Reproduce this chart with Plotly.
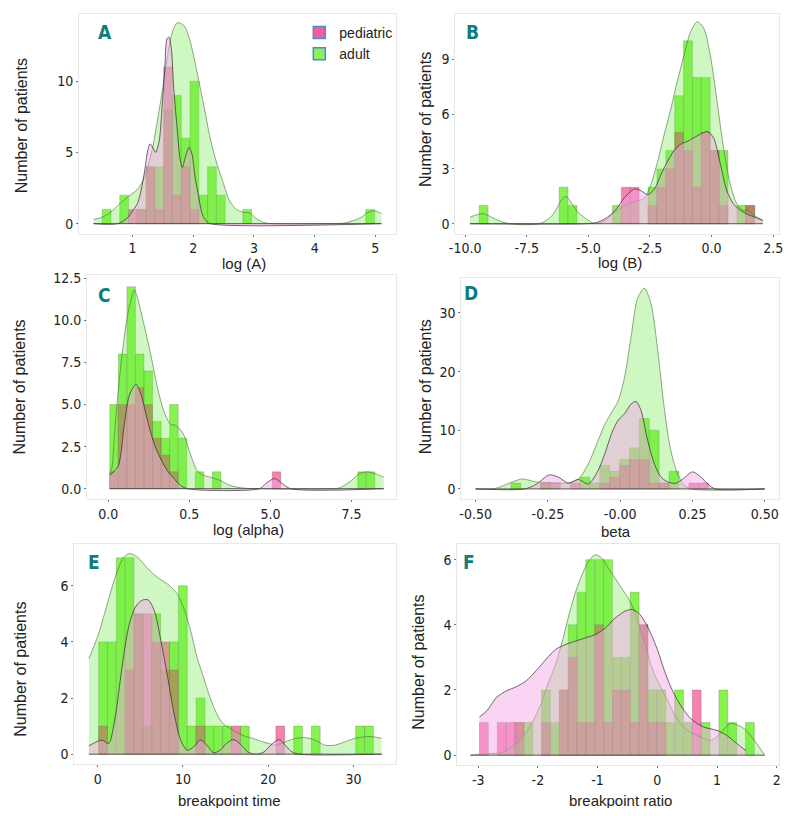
import plotly.graph_objects as go

# page is shown with an 8px body margin, so the figure is 783x800 and
# reference pixel positions are shifted by OFF
OFF = 8
FW, FH = 783, 800

# ---------------- DATA ----------------
# Panel A: log (A)
A_edge0, A_bw = 0.501, 0.1447
A_adult = [1,0,2,0,1,4,4,8,9,6,10,2,4,2,0,0,1,0,0,0,0,0,0,0,0,0,0,0,0,0,1]
A_ped   = [0,0,0,1,1,4,1,11,2,4,1,0,0,0,0,0,0,0,0,0,0,0,0,0,0,0,0,0,0,0,0]
A_dens_adult_x = [0.36,0.50,0.64,0.79,0.93,1.08,1.17,1.25,1.33,1.41,1.49,1.57,1.66,1.74,1.85,1.95,2.06,2.17,2.28,2.39,2.50,2.60,2.71,2.82,2.93,3.04,3.15,3.26,4.34,4.50,4.66,4.77,4.88,4.99,5.10]
A_dens_adult_y = [0.3,0.45,0.8,1.4,1.9,2.4,3.0,4.0,5.3,7.2,9.3,11.6,13.5,14.1,13.9,12.8,10.7,8.4,6.0,4.2,2.8,1.6,1.0,0.8,0.75,0.35,0.1,0.0,0.0,0.05,0.25,0.45,0.8,0.9,0.7]
A_dens_ped_x = [0.36,0.76,0.93,1.0,1.08,1.14,1.2,1.25,1.29,1.34,1.38,1.44,1.49,1.53,1.57,1.60,1.64,1.68,1.74,1.78,1.82,1.87,1.93,1.98,2.03,2.09,2.14,2.2,2.28,5.10]
A_dens_ped_y = [0.0,0.0,0.45,0.9,1.4,2.3,3.7,5.1,5.6,5.3,5.0,5.8,8.4,10.7,13.0,13.1,12.3,9.5,6.5,4.65,3.95,4.65,5.35,4.9,3.3,1.9,0.8,0.25,0.0,0.0]

# Panel B: log (B)
B_edge0, B_bw = -9.43, 0.3606
B_adult = [1,0,0,0,0,0,0,0,0,2,1,0,0,0,0,1,0,0,0,2,3,4,7,10,8,8,4,4,0,1,1,0]
B_ped   = [0,0,0,0,0,0,0,0,0,0,0,0,0,0,0,0,2,2,0,1,2,3,5,4,2,5,4,1,0,0,1,0]
B_dens_adult_x = [-9.8,-9.27,-8.7,-8.2,-7.0,-6.5,-5.93,-5.4,-4.72,-4.32,-3.92,-3.52,-3.12,-2.72,-2.45,-2.19,-1.92,-1.65,-1.39,-1.12,-0.85,-0.58,-0.32,-0.05,0.22,0.48,0.75,1.02,1.28,1.48,1.68,2.08]
B_dens_adult_y = [0.36,0.55,0.2,0.0,0.0,0.4,1.49,0.6,0.0,0.18,0.63,1.0,1.2,1.4,2.2,3.4,4.9,6.3,7.8,9.2,10.5,11.05,10.7,9.2,6.7,4.2,2.2,1.1,0.72,0.72,0.5,0.18]
B_dens_ped_x = [-9.8,-5.1,-4.72,-4.32,-3.92,-3.52,-3.12,-2.86,-2.59,-2.32,-2.05,-1.79,-1.52,-1.25,-0.99,-0.72,-0.45,-0.18,0.08,0.35,0.62,0.88,1.15,1.42,1.75,2.08]
B_dens_ped_y = [0.0,0.0,0.05,0.27,0.72,1.45,1.9,1.8,1.6,1.9,2.7,3.4,4.0,4.35,4.5,4.7,4.9,5.04,4.7,3.3,1.8,1.1,0.76,0.54,0.36,0.18]

# Panel C: log (alpha)
C_edge0, C_bw = 0.0507, 0.2634
C_adult = [5,8,12,8,7,4,3,5,3,0,1,0,1,0,0,0,0,0,0,0,0,0,0,0,0,0,0,0,0,1,1]
C_ped   = [1,5,5,6,5,3,2,1,0,0,0,0,0,0,0,0,0,0,0,1,0,0,0,0,0,0,0,0,0,0,0]
C_dens_adult_x = [0.05,0.1,0.2,0.35,0.51,0.66,0.81,0.91,1.11,1.32,1.52,1.72,1.93,2.03,2.18,2.33,2.53,2.74,2.94,3.14,3.44,3.75,4.15,4.56,7.0,7.19,7.5,7.75,8.0,8.2,8.49]
C_dens_adult_y = [1.0,1.1,3.4,6.6,9.2,10.9,11.8,11.3,9.7,7.9,6.0,4.6,3.8,3.8,3.6,3.2,2.07,1.08,0.79,0.69,0.5,0.2,0.04,0.0,0.0,0.1,0.5,0.9,1.0,0.9,0.69]
C_dens_ped_x = [0.05,0.3,0.51,0.66,0.86,1.01,1.22,1.42,1.62,1.82,2.03,2.23,2.43,4.66,4.86,5.12,5.37,5.62,8.49]
C_dens_ped_y = [0.8,1.3,4.0,5.6,6.2,5.6,4.0,2.66,1.77,1.08,0.59,0.2,0.0,0.0,0.3,0.6,0.3,0.0,0.0]

# Panel D: beta
D_edge0, D_bw = -0.378, 0.0342
D_adult = [1,0,0,1,0,0,0,2,1,4,3,5,7,12,10,1,3,0,0,0]
D_ped   = [0,0,0,1,1,0,1,0,0,1,2,4,5,5,1,1,0,0,1,1]
D_dens_adult_x = [-0.5,-0.441,-0.418,-0.372,-0.338,-0.292,-0.247,-0.213,-0.178,-0.144,-0.11,-0.076,-0.053,-0.03,-0.007,0.015,0.038,0.061,0.084,0.107,0.13,0.152,0.175,0.198,0.22,0.244,0.5]
D_dens_adult_y = [0,0,0.3,1.2,1.7,1.2,1.1,1.0,1.0,1.7,4.3,8.3,11,13,15,19,26,32.6,34.2,31.5,23.6,14,6.6,2.7,0.7,0,0]
D_dens_ped_x = [-0.5,-0.33,-0.29,-0.245,-0.21,-0.18,-0.145,-0.11,-0.076,-0.053,-0.03,-0.007,0.015,0.038,0.055,0.072,0.095,0.118,0.14,0.164,0.192,0.22,0.25,0.278,0.306,0.33,0.5]
D_dens_ped_y = [0,0,0.8,2.4,1.9,1.0,1.6,0.85,3.2,6.0,9.4,11.7,12.8,14.5,14.9,13.4,8.3,4.35,2.1,1.2,0.96,1.8,2.9,2.1,0.7,0,0]

# Panel E: breakpoint time
E_edge0, E_bw = 0.1, 1.04
E_adult = [4,4,7,7,5,1,5,3,4,6,1,2,1,1,1,0,1,0,0,0,0,0,1,0,1,0,0,0,0,1,1]
E_ped   = [1,0,0,3,5,5,4,4,3,0,0,1,0,0,0,1,0,0,0,0,1,0,0,0,0,0,0,0,0,0,0]
E_dens_adult_x = [-1.04,0,0.88,2.04,3.0,3.77,4.73,5.9,7.0,8.2,9.35,10.1,10.9,11.65,12.4,13.2,13.96,14.7,15.9,17.0,18.2,19.35,20.1,20.9,22.0,23.2,24.3,25.5,26.65,27.8,29.0,30.1,31.3,32.35,33.3]
E_dens_adult_y = [3.4,4.2,5.1,6.3,7.0,7.15,7.0,6.6,6.3,6.06,5.7,5.2,4.4,3.45,2.75,2.0,1.44,1.09,0.85,0.67,0.56,0.44,0.38,0.32,0.44,0.56,0.59,0.5,0.32,0.32,0.44,0.56,0.62,0.62,0.56]
E_dens_ped_x = [-1.04,0.5,1.27,2.04,2.8,3.6,4.35,5.1,5.9,6.65,7.4,8.2,8.96,9.73,10.5,11.27,12.04,12.8,13.6,14.35,15.1,15.9,16.65,17.6,18.6,19.5,20.5,21.3,22.0,22.8,23.6,33.3]
E_dens_ped_y = [0.3,0.5,0.38,1.3,3.0,4.5,5.2,5.47,5.5,5.1,4.05,2.75,1.44,0.5,0.14,0.26,0.5,0.32,0.05,0.14,0.38,0.52,0.38,0.08,0.0,0.08,0.38,0.52,0.32,0.08,0.0,0.0]

# Panel F: breakpoint ratio
F_edge0, F_bw = -2.978, 0.1485
F_adult = [0,0,0,0,1,1,0,2,1,2,4,5,6,6,6,3,3,5,4,2,2,1,2,1,0,1,0,2,1,0,1]
F_ped   = [1,0,1,1,1,0,0,1,0,2,3,1,1,4,1,2,2,1,4,1,1,0,0,0,2,0,0,0,0,0,0]
F_dens_adult_x = [-3.13,-2.8,-2.63,-2.47,-2.3,-2.14,-1.97,-1.81,-1.7,-1.59,-1.48,-1.37,-1.26,-1.15,-1.04,-0.93,-0.82,-0.71,-0.6,-0.49,-0.38,-0.27,-0.16,-0.05,0.06,0.17,0.28,0.39,0.5,0.61,0.78,0.92,1.05,1.22,1.36,1.49,1.8]
F_dens_adult_y = [0.0,0.05,0.07,0.2,0.46,0.86,1.47,2.29,2.8,3.5,4.3,5.0,5.54,5.95,6.15,6.05,5.74,5.44,5.13,4.83,4.42,3.8,3.1,2.49,2.08,1.68,1.27,0.97,0.76,0.66,0.51,0.46,0.66,0.97,0.91,0.76,0.0]
F_dens_ped_x = [-2.98,-2.85,-2.69,-2.52,-2.36,-2.19,-2.03,-1.86,-1.7,-1.53,-1.37,-1.2,-1.04,-0.87,-0.71,-0.54,-0.43,-0.32,-0.21,-0.1,0.01,0.12,0.23,0.34,0.45,0.56,0.67,0.78,0.89,1.0,1.16,1.33,1.49]
F_dens_ped_y = [1.17,1.37,1.78,1.98,2.1,2.29,2.59,2.95,3.25,3.4,3.5,3.6,3.7,3.9,4.2,4.42,4.47,4.37,4.1,3.7,3.2,2.59,2.08,1.68,1.37,1.12,0.97,0.86,0.81,0.76,0.61,0.36,0.13]

X_TITLES = ["log (A)", "log (B)", "log (alpha)", "beta", "breakpoint time", "breakpoint ratio"]
Y_TITLE = "Number of patients"
LETTERS = ["A", "B", "C", "D", "E", "F"]
LEGEND_NAMES = ["pediatric", "adult"]

# ---------------- STYLE / LAYOUT ----------------
TICKF = "DejaVu Sans Condensed, Liberation Sans, Arial, sans-serif"
SANS = "Liberation Sans, Arial, sans-serif"
ADULT_BAR = "rgba(104,240,34,0.80)"
PED_BAR = "rgba(238,40,118,0.58)"
ADULT_FILL = "rgba(110,230,70,0.33)"
PED_FILL = "rgba(244,165,230,0.48)"
ADULT_LINE = "rgba(70,110,60,0.75)"
PED_LINE = "rgba(40,40,40,0.85)"

# reference-pixel boxes: (x0, x1, y0, y1)
boxes = [(74, 395, 9, 230), (455, 783, 9, 230), (82, 395, 272, 497),
         (461, 783, 275, 497), (69, 395, 542, 764), (457, 783, 542, 765)]
xranges = [[0.122, 5.341], [-10.40, 2.74], [-0.65, 8.87], [-0.55, 0.55], [-2.76, 35.0], [-3.35, 2.04]]
yranges = [[-0.70, 14.72], [-0.54, 11.47], [-0.61, 12.68], [-1.71, 35.9], [-0.36, 7.5], [-0.31, 6.49]]
xticks = [([1, 2, 3, 4, 5], ["1", "2", "3", "4", "5"]),
          ([-10, -7.5, -5, -2.5, 0, 2.5], ["-10.0", "-7.5", "-5.0", "-2.5", "0.0", "2.5"]),
          ([0, 2.5, 5, 7.5], ["0.0", "0.5", "5.0", "7.5"]),
          ([-0.5, -0.25, 0, 0.25, 0.5], ["-0.50", "-0.25", "-0.00", "0.25", "0.50"]),
          ([0, 10, 20, 30], ["0", "10", "20", "30"]),
          ([-3, -2, -1, 0, 1, 2], ["-3", "-2", "-1", "0", "1", "2"])]
yticks = [([0, 5, 10], ["0", "5", "10"]),
          ([0, 3, 6, 9], ["0", "3", "6", "9"]),
          ([0, 2.5, 5, 7.5, 10, 12.5], ["0.0", "2.5", "5.0", "7.5", "10.0", "12.5"]),
          ([0, 10, 20, 30], ["0", "10", "20", "30"]),
          ([0, 2, 4, 6], ["0", "2", "4", "6"]),
          ([0, 2, 4, 6], ["0", "2", "4", "6"])]
xtitle_pos = [(241, 260), (622, 259), (246, 528), (618, 530), (226, 800), (622, 800)]
ytitle_x = [15, 425, 14, 425, 15, 418]
ytitle_y = [121, 115, 384, 384, 668, 661]
letter_pos = [(100, 27), (472, 27), (100, 292), (471, 290), (89, 560), (469, 560)]


def fx(px):
    return min(1.0, max(0.0, (px - OFF) / FW))


def fy(py):
    return min(1.0, max(0.0, 1 - (py - OFF) / FH))


panels = [
    (A_edge0, A_bw, A_adult, A_ped, A_dens_adult_x, A_dens_adult_y, A_dens_ped_x, A_dens_ped_y),
    (B_edge0, B_bw, B_adult, B_ped, B_dens_adult_x, B_dens_adult_y, B_dens_ped_x, B_dens_ped_y),
    (C_edge0, C_bw, C_adult, C_ped, C_dens_adult_x, C_dens_adult_y, C_dens_ped_x, C_dens_ped_y),
    (D_edge0, D_bw, D_adult, D_ped, D_dens_adult_x, D_dens_adult_y, D_dens_ped_x, D_dens_ped_y),
    (E_edge0, E_bw, E_adult, E_ped, E_dens_adult_x, E_dens_adult_y, E_dens_ped_x, E_dens_ped_y),
    (F_edge0, F_bw, F_adult, F_ped, F_dens_adult_x, F_dens_adult_y, F_dens_ped_x, F_dens_ped_y),
]

fig = go.Figure()
layout = dict(width=FW, height=FH, margin=dict(l=0, r=0, t=0, b=0),
              paper_bgcolor="white", plot_bgcolor="white", barmode="overlay",
              showlegend=True, annotations=[])


def bars(edge0, bw, counts):
    xs, ys = [], []
    for k, c in enumerate(counts):
        if c > 0:
            xs.append(edge0 + (k + 0.5) * bw)
            ys.append(c)
    return xs, ys


for i, (e0, bw, ad, pe, dax, day, dpx, dpy) in enumerate(panels):
    n = "" if i == 0 else str(i + 1)
    xa, ya = "x" + n, "y" + n
    xs, ys = bars(e0, bw, ad)
    fig.add_trace(go.Bar(x=xs, y=ys, width=bw, xaxis=xa, yaxis=ya, showlegend=False,
                         marker=dict(color=ADULT_BAR, line=dict(color="rgba(60,60,60,0.35)", width=0.6))))
    xs, ys = bars(e0, bw, pe)
    fig.add_trace(go.Bar(x=xs, y=ys, width=bw, xaxis=xa, yaxis=ya, showlegend=False,
                         marker=dict(color=PED_BAR, line=dict(color="rgba(60,60,60,0.35)", width=0.6))))
    fig.add_trace(go.Scatter(x=dax, y=day, xaxis=xa, yaxis=ya, mode="lines", fill="tozeroy",
                             fillcolor=ADULT_FILL, line=dict(color=ADULT_LINE, width=0.8, shape="spline", smoothing=0.8),
                             showlegend=False))
    fig.add_trace(go.Scatter(x=dpx, y=dpy, xaxis=xa, yaxis=ya, mode="lines", fill="tozeroy",
                             fillcolor=PED_FILL, line=dict(color=PED_LINE, width=0.8, shape="spline", smoothing=0.8),
                             showlegend=False))
    lo = min(dax[0], dpx[0]); hi = max(dax[-1], dpx[-1])
    fig.add_trace(go.Scatter(x=[lo, hi], y=[0, 0], xaxis=xa, yaxis=ya, mode="lines",
                             line=dict(color="rgba(70,70,70,0.9)", width=1), showlegend=False))

    x0, x1, y0, y1 = boxes[i]
    common = dict(showgrid=False, zeroline=False, showline=True, mirror=True, linecolor="#e8e8e8",
                  linewidth=1, ticks="outside", ticklen=2, tickcolor="#777",
                  tickfont=dict(family=TICKF, size=14, color="#222"))
    layout["xaxis" + n] = dict(domain=[fx(x0), fx(x1)], range=xranges[i], anchor=ya,
                               tickvals=xticks[i][0], ticktext=xticks[i][1], **common)
    layout["yaxis" + n] = dict(domain=[fy(y1), fy(y0)], range=yranges[i], anchor=xa,
                               tickvals=yticks[i][0], ticktext=yticks[i][1], **common)
    layout["annotations"] += [
        dict(text=X_TITLES[i], x=fx(xtitle_pos[i][0]), y=fy(xtitle_pos[i][1]), xref="paper", yref="paper",
             showarrow=False, xanchor="center", yanchor="middle", font=dict(family=SANS, size=15, color="#222")),
        dict(text=Y_TITLE, x=fx(ytitle_x[i]), y=fy(ytitle_y[i]), xref="paper", yref="paper",
             showarrow=False, textangle=-90, xanchor="center", yanchor="middle", font=dict(family=SANS, size=16, color="#222")),
        dict(text="<b>" + LETTERS[i] + "</b>", x=fx(letter_pos[i][0]), y=fy(letter_pos[i][1]),
             xref="paper", yref="paper", showarrow=False, xanchor="center", yanchor="middle",
             font=dict(family=TICKF, size=19, color="#0f7d7d")),
    ]

# legend entries (panel A)
fig.add_trace(go.Bar(x=[None], y=[None], name=LEGEND_NAMES[0], xaxis="x", yaxis="y",
                     marker=dict(color="rgb(240,95,150)", line=dict(color="#4f86e0", width=1.5))))
fig.add_trace(go.Bar(x=[None], y=[None], name=LEGEND_NAMES[1], xaxis="x", yaxis="y",
                     marker=dict(color="rgb(140,240,90)", line=dict(color="#4f86e0", width=1.5))))
layout["legend"] = dict(x=fx(297), y=fy(12), xanchor="left", yanchor="top", bgcolor="rgba(0,0,0,0)",
                        font=dict(family=SANS, size=14, color="#222"), tracegroupgap=0, itemclick=False)

fig.update_layout(**layout)
fig.write_html("out.html")
